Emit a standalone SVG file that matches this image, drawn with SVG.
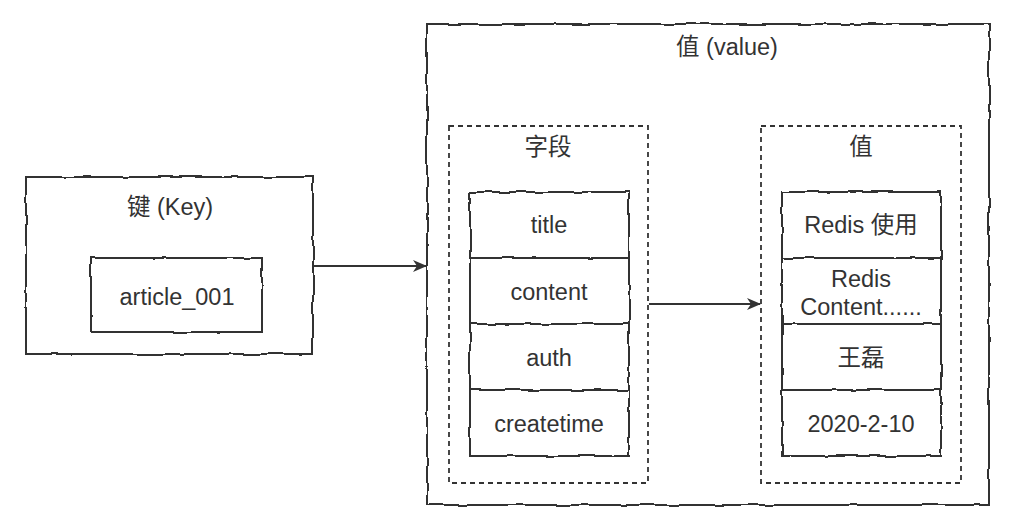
<svg xmlns="http://www.w3.org/2000/svg" width="1014" height="522" viewBox="0 0 1014 522">
<style>
.box{fill:#fff;stroke:#333;stroke-width:2;filter:url(#rough)}
.dash{fill:none;stroke:#333;stroke-width:1.8;stroke-dasharray:5 4}
.t{font-family:"Liberation Sans",Arial,"Noto Sans CJK SC",sans-serif;font-size:23.5px;fill:#333;text-anchor:middle}
.edge{fill:none;stroke:#333;stroke-width:1.8}
</style>
<defs>
<filter id="rough" x="-5%" y="-5%" width="110%" height="110%">
<feTurbulence type="fractalNoise" baseFrequency="0.05" numOctaves="2" seed="3" result="n"/>
<feDisplacementMap in="SourceGraphic" in2="n" scale="3.5" xChannelSelector="R" yChannelSelector="G"/>
</filter>
<marker id="arr" viewBox="0 0 14 12" refX="13" refY="6" markerWidth="14" markerHeight="12" markerUnits="userSpaceOnUse" orient="auto">
<path d="M0,0 L14,6 L0,12 L4,6 Z" fill="#333"/>
</marker>
</defs>
<g id="key">
<rect class="box" x="26" y="177" width="287" height="177"/>
<text class="t" x="170" y="215">键 (Key)</text>
</g>
<g id="article">
<rect class="box" x="91" y="258" width="171" height="74"/>
<text class="t" x="177" y="305">article_001</text>
</g>
<g id="value">
<rect class="box" x="427" y="24" width="562" height="481"/>
<text class="t" x="727" y="55">值 (value)</text>
</g>
<g id="fields">
<rect class="dash" x="449" y="126" width="199" height="357"/>
<text class="t" x="548" y="155">字段</text>
</g>
<g id="values">
<rect class="dash" x="761" y="126" width="200" height="357"/>
<text class="t" x="861" y="155">值</text>
</g>
<g id="f-title"><rect class="box" x="470" y="192" width="159" height="66"/><text class="t" x="549" y="233">title</text></g>
<g id="f-content"><rect class="box" x="470" y="258" width="159" height="66"/><text class="t" x="549" y="300">content</text></g>
<g id="f-auth"><rect class="box" x="470" y="324" width="159" height="66"/><text class="t" x="549" y="366">auth</text></g>
<g id="f-createtime"><rect class="box" x="470" y="390" width="159" height="66"/><text class="t" x="549" y="432">createtime</text></g>
<g id="v-title"><rect class="box" x="782" y="192" width="159" height="66"/><text class="t" x="861" y="233">Redis 使用</text></g>
<g id="v-content"><rect class="box" x="782" y="258" width="159" height="66"/><text class="t" x="861" y="287">Redis</text><text class="t" x="861" y="315">Content......</text></g>
<g id="v-auth"><rect class="box" x="782" y="324" width="159" height="66"/><text class="t" x="861" y="366">王磊</text></g>
<g id="v-createtime"><rect class="box" x="782" y="390" width="159" height="66"/><text class="t" x="861" y="432">2020-2-10</text></g>
<g id="connectors">
<path class="edge" d="M313,266 L426,266" marker-end="url(#arr)"/>
<path class="edge" d="M649,304 L760,304" marker-end="url(#arr)"/>
</g>
</svg>
